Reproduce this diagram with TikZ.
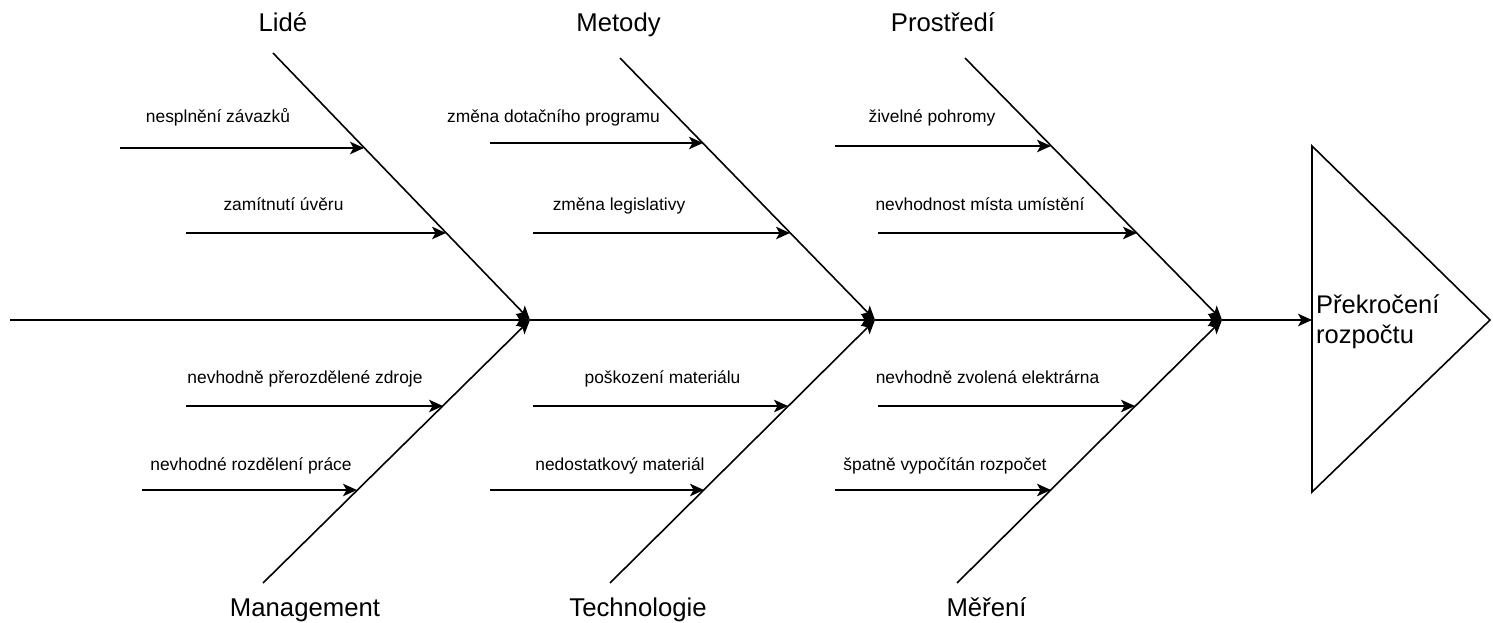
\documentclass[tikz,border=0pt]{standalone}
\usepackage{fontspec}
\setmainfont{Liberation Sans}
\usetikzlibrary{arrows.meta}
\begin{document}
\begin{tikzpicture}[x=1pt,y=-1pt,
  ln/.style={draw=black, line width=1.6pt},
  arr/.style={ln, -{Stealth[length=14pt,width=12.5pt,inset=3.5pt]}},
  cat/.style={font=\fontsize{25.7}{30}\selectfont, inner sep=0pt, anchor=base},
  cause/.style={font=\fontsize{17.4}{21}\selectfont, inner sep=0pt, anchor=base},
  head/.style={font=\fontsize{25.5}{30}\selectfont, align=left, inner sep=0pt}]
\useasboundingbox (0,0) rectangle (1493,623);

% spine
\coordinate (S0) at (10,320);
\coordinate (J1) at (530,320);
\coordinate (J2) at (875,320);
\coordinate (J3) at (1222,320);
\coordinate (T) at (1312,320);
\draw[arr] (S0) -- (J1);
\draw[arr] (J1) -- (J2);
\draw[arr] (J2) -- (J3);
\draw[arr] (J3) -- (T);

% head
\draw[ln, line join=miter] (1312,146) -- (1490,320) -- (1312,492) -- cycle;
\node[head, anchor=west] (goal) at (1316,322) {Překročení\\rozpočtu};

% branch tops / bottoms
\coordinate (B1) at (273,53);
\coordinate (B2) at (620,58);
\coordinate (B3) at (965,58);
\coordinate (B4) at (263,583);
\coordinate (B5) at (610,583);
\coordinate (B6) at (957,583);
\draw[arr] (B1) -- (J1);
\draw[arr] (B2) -- (J2);
\draw[arr] (B3) -- (J3);
\draw[arr] (B4) -- (J1);
\draw[arr] (B5) -- (J2);
\draw[arr] (B6) -- (J3);

% category labels
\node[cat] (lide) at (283,32) {Lidé};
\node[cat] (metody) at (618.5,32) {Metody};
\node[cat] (prostredi) at (943,32) {Prostředí};
\node[cat] (management) at (305,616) {Management};
\node[cat] (technologie) at (638,616) {Technologie};
\node[cat] (mereni) at (986.5,616) {Měření};

% causes: Lidé
\coordinate (a1s) at (120,148); \coordinate (a1e) at (364,148);
\coordinate (a2s) at (186,233); \coordinate (a2e) at (446,233);
\draw[arr] (a1s) -- (a1e);
\draw[arr] (a2s) -- (a2e);
\node[cause] (t1) at (218,123) {nesplnění závazků};
\node[cause] (t2) at (283.5,210) {zamítnutí úvěru};

% causes: Metody
\coordinate (b1s) at (490,143); \coordinate (b1e) at (703,143);
\coordinate (b2s) at (533,233); \coordinate (b2e) at (790,233);
\draw[arr] (b1s) -- (b1e);
\draw[arr] (b2s) -- (b2e);
\node[cause] (t3) at (553.5,123) {změna dotačního programu};
\node[cause] (t4) at (619,210) {změna legislativy};

% causes: Prostředí
\coordinate (c1s) at (835,146); \coordinate (c1e) at (1051,146);
\coordinate (c2s) at (878,233); \coordinate (c2e) at (1137,233);
\draw[arr] (c1s) -- (c1e);
\draw[arr] (c2s) -- (c2e);
\node[cause] (t5) at (932,123) {živelné pohromy};
\node[cause] (t6) at (980,210) {nevhodnost místa umístění};

% causes: Management
\coordinate (d1s) at (186,406); \coordinate (d1e) at (443,406);
\coordinate (d2s) at (142,490); \coordinate (d2e) at (357,490);
\draw[arr] (d1s) -- (d1e);
\draw[arr] (d2s) -- (d2e);
\node[cause] (t7) at (305,383) {nevhodně přerozdělené zdroje};
\node[cause] (t8) at (251,470) {nevhodné rozdělení práce};

% causes: Technologie
\coordinate (e1s) at (533,406); \coordinate (e1e) at (788,406);
\coordinate (e2s) at (490,490); \coordinate (e2e) at (704,490);
\draw[arr] (e1s) -- (e1e);
\draw[arr] (e2s) -- (e2e);
\node[cause] (t9) at (662.5,383) {poškození materiálu};
\node[cause] (t10) at (620,470) {nedostatkový materiál};

% causes: Měření
\coordinate (f1s) at (878,406); \coordinate (f1e) at (1135,406);
\coordinate (f2s) at (835,490); \coordinate (f2e) at (1051,490);
\draw[arr] (f1s) -- (f1e);
\draw[arr] (f2s) -- (f2e);
\node[cause] (t11) at (987.5,383) {nevhodně zvolená elektrárna};
\node[cause] (t12) at (945,470) {špatně vypočítán rozpočet};
\end{tikzpicture}
\end{document}
